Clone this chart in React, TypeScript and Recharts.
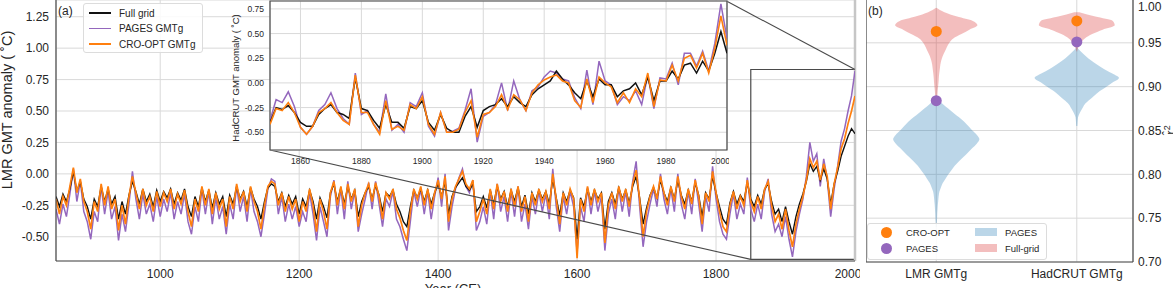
import {
  LineChart,
  Line,
  ComposedChart,
  Area,
  XAxis,
  YAxis,
  CartesianGrid,
  ReferenceArea,
  ReferenceLine,
  ReferenceDot,
} from "recharts";

const FONT = '"Liberation Sans", Arial, Helvetica, sans-serif';
const INK = "#262626";
const GRID = "#d9d9d9";
const SPINE = "#4a4a4a";

const C_FULL = "#111111";
const C_PAGES = "#9467bd";
const C_CRO = "#ff7f0e";
const C_VIOLIN_PAGES = "#1f77b4";
const C_VIOLIN_FULL = "#d62728";

// LMR global mean temperature, 5-year samples from 850 CE
const lmrStart = 850;
const lmrStep = 5;

const lmrFullGrid = [
  -0.18, -0.26, -0.16, -0.22, -0.12, 0.02, -0.14, -0.06, -0.2, -0.26,
  -0.36, -0.2, -0.26, -0.1, -0.22, -0.12, -0.24, -0.18, -0.36, -0.22,
  -0.32, -0.17, -0.06, -0.14, -0.24, -0.12, -0.22, -0.16, -0.26, -0.13,
  -0.22, -0.14, -0.19, -0.12, -0.24, -0.15, -0.21, -0.12, -0.26, -0.34,
  -0.18, -0.26, -0.11, -0.22, -0.13, -0.27, -0.15, -0.24, -0.18, -0.34,
  -0.17, -0.24, -0.1, -0.2, -0.14, -0.26, -0.11, -0.2, -0.26, -0.36,
  -0.22, -0.11, -0.08, -0.1, -0.22, -0.15, -0.26, -0.17, -0.24, -0.18,
  -0.32, -0.2, -0.26, -0.13, -0.22, -0.36, -0.19, -0.26, -0.35, -0.15,
  -0.08, -0.22, -0.11, -0.24, -0.1, -0.2, -0.13, -0.34, -0.22, -0.15,
  -0.1, -0.2, -0.09, -0.17, -0.3, -0.15, -0.18, -0.13, -0.24, -0.3,
  -0.38, -0.42, -0.26, -0.13, -0.19, -0.12, -0.22, -0.13, -0.24, -0.15,
  -0.08, -0.18, -0.06, -0.32, -0.18, -0.11, -0.07, -0.03, -0.1, -0.13,
  -0.08, -0.3, -0.26, -0.18, -0.27, -0.13, -0.24, -0.1, -0.2, -0.14,
  -0.26, -0.13, -0.22, -0.11, -0.26, -0.17, -0.32, -0.15, -0.22, -0.13,
  -0.2, -0.14, -0.24, -0.04, -0.19, -0.33, -0.15, -0.22, -0.13, -0.19,
  -0.52, -0.19, -0.26, -0.12, -0.22, -0.13, -0.2, -0.15, -0.44, -0.22,
  -0.15, -0.24, -0.11, -0.2, -0.13, -0.23, -0.1, -0.02, -0.19, -0.4,
  -0.27, -0.17, -0.11, -0.19, -0.05, -0.15, -0.22, -0.11, -0.2, -0.05,
  -0.17, -0.24, -0.13, -0.22, -0.07, -0.17, -0.34, -0.15, -0.2, -0.02,
  -0.15, -0.26, -0.36, -0.4, -0.23, -0.14, -0.24, -0.17, -0.22, -0.07,
  -0.2, -0.26, -0.17, -0.24, -0.12, -0.08, -0.22, -0.32, -0.28, -0.38,
  -0.26, -0.38, -0.48, -0.34, -0.24, -0.16, -0.06, 0.08, 0.02, 0.06,
  -0.05, 0.04, -0.04, -0.24, -0.08, 0.02, 0.14, 0.22, 0.3, 0.36,
  0.32,
];

const lmrPages = [
  -0.28, -0.4, -0.24, -0.34, -0.16, 0.04, -0.22, -0.06, -0.3, -0.38,
  -0.52, -0.3, -0.38, -0.1, -0.32, -0.14, -0.36, -0.26, -0.53, -0.32,
  -0.46, -0.24, 0.02, -0.2, -0.36, -0.16, -0.32, -0.24, -0.38, -0.18,
  -0.34, -0.2, -0.3, -0.15, -0.36, -0.22, -0.32, -0.16, -0.38, -0.48,
  -0.26, -0.38, -0.12, -0.32, -0.14, -0.4, -0.19, -0.36, -0.26, -0.48,
  -0.24, -0.36, -0.1, -0.3, -0.18, -0.38, -0.12, -0.3, -0.38, -0.5,
  -0.32, -0.12, -0.04, -0.06, -0.32, -0.18, -0.38, -0.24, -0.36, -0.26,
  -0.42, -0.3, -0.38, -0.15, -0.32, -0.53, -0.26, -0.38, -0.5, -0.18,
  -0.05, -0.32, -0.12, -0.36, -0.06, -0.28, -0.14, -0.46, -0.32, -0.2,
  -0.07, -0.28, -0.06, -0.24, -0.42, -0.2, -0.26, -0.14, -0.36, -0.42,
  -0.52, -0.61, -0.38, -0.14, -0.26, -0.12, -0.32, -0.14, -0.36, -0.18,
  -0.03, -0.26, 0.0, -0.45, -0.26, -0.12, -0.03, 0.04, -0.1, -0.15,
  -0.05, -0.45, -0.38, -0.26, -0.4, -0.14, -0.36, -0.08, -0.3, -0.18,
  -0.38, -0.14, -0.34, -0.1, -0.38, -0.24, -0.44, -0.18, -0.32, -0.14,
  -0.3, -0.16, -0.36, 0.04, -0.26, -0.46, -0.18, -0.32, -0.14, -0.26,
  -0.62, -0.26, -0.38, -0.11, -0.32, -0.14, -0.3, -0.18, -0.61, -0.32,
  -0.2, -0.36, -0.11, -0.3, -0.14, -0.34, -0.06, 0.1, -0.26, -0.58,
  -0.38, -0.24, -0.12, -0.26, 0.0, -0.2, -0.32, -0.12, -0.3, 0.0,
  -0.24, -0.36, -0.14, -0.32, -0.04, -0.24, -0.46, -0.18, -0.3, 0.06,
  -0.2, -0.38, -0.48, -0.52, -0.32, -0.16, -0.36, -0.24, -0.32, -0.03,
  -0.28, -0.38, -0.24, -0.36, -0.14, -0.04, -0.32, -0.46, -0.4, -0.5,
  -0.34, -0.52, -0.66, -0.46, -0.32, -0.2, -0.02, 0.25, 0.1, 0.16,
  -0.1, 0.12, -0.04, -0.34, -0.12, 0.06, 0.26, 0.36, 0.5, 0.62,
  0.82,
];

const lmrCroOpt = [
  -0.2, -0.32, -0.18, -0.25, -0.1, 0.05, -0.15, -0.04, -0.22, -0.3,
  -0.44, -0.22, -0.3, -0.08, -0.25, -0.1, -0.28, -0.2, -0.45, -0.25,
  -0.4, -0.18, -0.02, -0.15, -0.28, -0.12, -0.25, -0.18, -0.3, -0.14,
  -0.26, -0.15, -0.22, -0.12, -0.28, -0.16, -0.24, -0.13, -0.3, -0.42,
  -0.2, -0.3, -0.1, -0.25, -0.12, -0.32, -0.15, -0.28, -0.2, -0.42,
  -0.18, -0.28, -0.08, -0.22, -0.14, -0.3, -0.1, -0.22, -0.3, -0.44,
  -0.25, -0.1, -0.06, -0.08, -0.25, -0.15, -0.3, -0.18, -0.28, -0.2,
  -0.38, -0.22, -0.3, -0.12, -0.25, -0.46, -0.2, -0.3, -0.44, -0.15,
  -0.06, -0.25, -0.1, -0.28, -0.08, -0.22, -0.12, -0.42, -0.25, -0.15,
  -0.08, -0.22, -0.07, -0.18, -0.36, -0.15, -0.2, -0.12, -0.28, -0.35,
  -0.45, -0.53, -0.3, -0.12, -0.2, -0.1, -0.25, -0.12, -0.28, -0.15,
  -0.05, -0.2, -0.02, -0.38, -0.2, -0.1, -0.04, 0.02, -0.08, -0.12,
  -0.05, -0.38, -0.3, -0.2, -0.32, -0.12, -0.28, -0.08, -0.22, -0.14,
  -0.3, -0.12, -0.26, -0.1, -0.3, -0.18, -0.38, -0.15, -0.25, -0.12,
  -0.22, -0.14, -0.28, 0.0, -0.2, -0.4, -0.15, -0.25, -0.12, -0.2,
  -0.67, -0.2, -0.3, -0.1, -0.25, -0.12, -0.22, -0.15, -0.55, -0.25,
  -0.15, -0.28, -0.1, -0.22, -0.12, -0.26, -0.08, 0.03, -0.2, -0.5,
  -0.3, -0.18, -0.1, -0.2, -0.02, -0.15, -0.25, -0.1, -0.22, -0.02,
  -0.18, -0.28, -0.12, -0.24, -0.05, -0.18, -0.4, -0.15, -0.22, 0.02,
  -0.15, -0.3, -0.42, -0.46, -0.25, -0.14, -0.28, -0.18, -0.25, -0.05,
  -0.22, -0.3, -0.18, -0.28, -0.12, -0.06, -0.25, -0.38, -0.32, -0.44,
  -0.28, -0.45, -0.58, -0.4, -0.28, -0.18, -0.05, 0.12, 0.05, 0.1,
  -0.05, 0.08, -0.02, -0.28, -0.08, 0.05, 0.2, 0.28, 0.4, 0.5,
  0.62,
];

// HadCRUT-calibrated reconstructions, 2-year samples from 1850
const hadStart = 1850;
const hadStep = 2;

const hadFullGrid = [
  -0.4, -0.25, -0.27, -0.23, -0.3, -0.4, -0.44, -0.44, -0.32, -0.26,
  -0.22, -0.3, -0.32, -0.36, 0.05, -0.26, -0.28, -0.38, -0.46, -0.22,
  -0.4, -0.4, -0.46, -0.24, -0.26, -0.18, -0.4, -0.48, -0.32, -0.46,
  -0.5, -0.5, -0.34, -0.24, -0.45, -0.28, -0.24, -0.22, -0.16, -0.24,
  -0.14, -0.2, -0.24, -0.12, -0.06, -0.02, 0.02, 0.12, 0.04, -0.02,
  -0.1, -0.16, 0.02, -0.14, 0.04, -0.02, -0.02, -0.14, -0.08, -0.06,
  0.0, -0.12, 0.06, -0.18, 0.02, 0.02, 0.12, 0.04, 0.18, 0.2,
  0.1, 0.22, 0.12, 0.3, 0.52, 0.3,
];

const hadPages = [
  -0.38, -0.17, -0.2, -0.09, -0.24, -0.45, -0.52, -0.44, -0.28, -0.22,
  -0.1, -0.26, -0.36, -0.42, 0.1, -0.32, -0.28, -0.42, -0.5, -0.11,
  -0.48, -0.42, -0.5, -0.2, -0.24, -0.1, -0.44, -0.54, -0.3, -0.5,
  -0.49, -0.46, -0.28, -0.06, -0.6, -0.34, -0.3, -0.22, 0.0, -0.28,
  0.02, -0.17, -0.28, -0.08, -0.04, 0.06, 0.12, 0.1, 0.04, 0.02,
  -0.15, -0.26, 0.13, -0.22, 0.22, 0.02, -0.02, -0.22, -0.14, -0.18,
  -0.08, -0.22, 0.08, -0.26, 0.05, 0.04, 0.2, -0.02, 0.3, 0.3,
  0.17, 0.32, 0.12, 0.4, 0.8, 0.45,
];

const hadCroOpt = [
  -0.42, -0.26, -0.28, -0.2, -0.3, -0.45, -0.52, -0.44, -0.3, -0.26,
  -0.2, -0.3, -0.38, -0.42, 0.08, -0.3, -0.3, -0.42, -0.52, -0.18,
  -0.47, -0.44, -0.48, -0.22, -0.26, -0.14, -0.42, -0.52, -0.3, -0.5,
  -0.5, -0.47, -0.3, -0.18, -0.55, -0.32, -0.3, -0.24, -0.12, -0.27,
  -0.12, -0.17, -0.28, -0.1, -0.02, 0.03, 0.06, 0.08, 0.02, 0.0,
  -0.18, -0.25, 0.04, -0.2, 0.06, 0.0, -0.04, -0.2, -0.1, -0.2,
  -0.06, -0.14, 0.1, -0.24, 0.03, 0.02, 0.18, 0.02, 0.25, 0.28,
  0.15, 0.3, 0.1, 0.35, 0.68, 0.38,
];

const mainXTicks = [1000, 1200, 1400, 1600, 1800, 2000];
const mainYTicks = [-0.5, -0.25, 0, 0.25, 0.5, 0.75, 1.0, 1.25];
const insetXTicks = [1860, 1880, 1900, 1920, 1940, 1960, 1980, 2000];
const insetYTicks = [-0.5, -0.25, 0, 0.25, 0.5, 0.75];

// zoomed window shown in the inset
const zoomYears = [1850, 2000];
const zoomAnomaly = [-0.68, 0.83];

// violin panel: r^2 evaluation grid and half-widths of each kernel density
const violinLabels = ["LMR GMTg", "HadCRUT GMTg"];
const violinPositions = [0, 1];
const violinR = [
  0.74, 0.745, 0.75, 0.755, 0.76, 0.765, 0.77, 0.775, 0.78, 0.785,
  0.79, 0.795, 0.8, 0.805, 0.81, 0.815, 0.82, 0.825, 0.83, 0.835,
  0.84, 0.845, 0.85, 0.855, 0.86, 0.865, 0.87, 0.875, 0.88, 0.885,
  0.89, 0.895, 0.9, 0.905, 0.91, 0.915, 0.92, 0.925, 0.93, 0.935,
  0.94, 0.945, 0.95, 0.955, 0.96, 0.965, 0.97, 0.975, 0.98, 0.985,
  0.99,
];
const _ = null;
const lmrFullWidth = [
  _, _, _, _, _, _, _, _, _, _,
  _, _, _, _, _, _, _, _, _, _,
  _, _, _, _, _, _, _, _, _, 0.006,
  0.008, 0.01, 0.013, 0.016, 0.018, 0.021, 0.025, 0.029, 0.036, 0.046,
  0.061, 0.075, 0.093, 0.121, 0.179, 0.236, 0.293, 0.26, 0.148, 0.058,
  0.0,
];
const lmrPagesWidth = [
  0.003, 0.004, 0.006, 0.007, 0.009, 0.011, 0.014, 0.017, 0.022, 0.033,
  0.046, 0.066, 0.086, 0.109, 0.133, 0.162, 0.195, 0.226, 0.257, 0.288,
  0.307, 0.289, 0.257, 0.228, 0.199, 0.162, 0.123, 0.085, 0.048, 0.014,
  0.003, _, _, _, _, _, _, _, _, _,
  _, _, _, _, _, _, _, _, _, _,
  _,
];
const hadFullWidth = [
  _, _, _, _, _, _, _, _, _, _,
  _, _, _, _, _, _, _, _, _, _,
  _, _, _, _, _, _, _, _, _, _,
  _, _, _, _, _, _, _, _, _, _,
  0.002, 0.011, 0.029, 0.057, 0.11, 0.184, 0.27, 0.256, 0.132, 0.018,
  _,
];
const hadPagesWidth = [
  _, _, _, _, _, _, _, _, _, _,
  _, _, _, _, _, _, _, _, _, _,
  _, _, _, 0.004, 0.006, 0.009, 0.021, 0.039, 0.057, 0.091,
  0.126, 0.164, 0.211, 0.257, 0.3, 0.253, 0.196, 0.146, 0.1, 0.063,
  0.029, 0.002, _, _, _, _, _, _, _, _,
  _,
];
const croOptScore = [0.963, 0.975];
const pagesScore = [0.884, 0.951];
const scoreTicks = [0.7, 0.75, 0.8, 0.85, 0.9, 0.95, 1.0];

const mainRows = lmrFullGrid.map((v, i) => ({
  year: lmrStart + i * lmrStep,
  full: v,
  pages: lmrPages[i],
  cro: lmrCroOpt[i],
}));

const hadRows = hadFullGrid.map((v, i) => ({
  year: hadStart + i * hadStep,
  full: v,
  pages: hadPages[i],
  cro: hadCroOpt[i],
}));

const span = (w: number | null, pos: number) =>
  w == null ? undefined : [pos - w, pos + w];

const violinRows = violinR.map((r, i) => ({
  r,
  lmrFull: span(lmrFullWidth[i], violinPositions[0]),
  lmrPages: span(lmrPagesWidth[i], violinPositions[0]),
  hadFull: span(hadFullWidth[i], violinPositions[1]),
  hadPages: span(hadPagesWidth[i], violinPositions[1]),
}));

const fmt2 = (v: number) => v.toFixed(2);

function MainPanel() {
  const tick = { fontSize: 12, fill: INK, fontFamily: FONT };
  return (
    <LineChart
      width={860}
      height={288}
      data={mainRows}
      margin={{ top: 0, right: 5, bottom: 0, left: 0 }}
    >
      <CartesianGrid stroke={GRID} />
      <XAxis
        dataKey="year"
        type="number"
        domain={[850, 2000]}
        ticks={mainXTicks}
        allowDataOverflow
        height={27}
        tick={tick}
        tickLine={false}
        tickSize={4}
        tickMargin={4}
        axisLine={{ stroke: SPINE, strokeWidth: 1.2 }}
      />
      <YAxis
        type="number"
        domain={[-0.693, 1.383]}
        ticks={mainYTicks}
        allowDataOverflow
        width={56}
        tick={tick}
        tickFormatter={fmt2}
        tickLine={false}
        tickSize={4}
        tickMargin={3}
        axisLine={{ stroke: SPINE, strokeWidth: 1.2 }}
      />
      <ReferenceLine x={2000} stroke="#c6c6c6" strokeWidth={2.5} />
      <Line
        dataKey="pages"
        stroke={C_PAGES}
        strokeWidth={1.5}
        dot={false}
        isAnimationActive={false}
      />
      <Line
        dataKey="full"
        stroke={C_FULL}
        strokeWidth={1.4}
        dot={false}
        isAnimationActive={false}
      />
      <Line
        dataKey="cro"
        stroke={C_CRO}
        strokeWidth={1.7}
        dot={false}
        isAnimationActive={false}
      />
      <ReferenceArea
        x1={zoomYears[0]}
        x2={zoomYears[1]}
        y1={zoomAnomaly[0]}
        y2={zoomAnomaly[1]}
        fill="none"
        stroke={SPINE}
        strokeWidth={1.2}
      />
      {/* connectors from the inset corners to the zoom window */}
      <ReferenceLine
        segment={[
          { x: 1158, y: 0.19 },
          { x: zoomYears[0], y: zoomAnomaly[0] },
        ]}
        stroke={SPINE}
        strokeWidth={1.1}
        ifOverflow="visible"
      />
      <ReferenceLine
        segment={[
          { x: 1815, y: 1.375 },
          { x: zoomYears[1], y: zoomAnomaly[1] },
        ]}
        stroke={SPINE}
        strokeWidth={1.1}
        ifOverflow="visible"
      />
    </LineChart>
  );
}

function InsetPanel() {
  const tick = { fontSize: 8.5, fill: INK, fontFamily: FONT };
  return (
    <LineChart
      width={503}
      height={168}
      data={hadRows}
      margin={{ top: 1, right: 2, bottom: 0, left: 0 }}
    >
      <CartesianGrid stroke={GRID} fill="#ffffff" fillOpacity={1} />
      <XAxis
        dataKey="year"
        type="number"
        domain={zoomYears}
        ticks={insetXTicks}
        allowDataOverflow
        height={18}
        tick={tick}
        tickLine={false}
        tickSize={3}
        tickMargin={5}
        axisLine={false}
      />
      <YAxis
        type="number"
        domain={zoomAnomaly}
        ticks={insetYTicks}
        allowDataOverflow
        width={44}
        tick={tick}
        tickFormatter={fmt2}
        tickLine={false}
        tickSize={3}
        tickMargin={3}
        axisLine={false}
      />
      <Line
        dataKey="pages"
        stroke={C_PAGES}
        strokeWidth={1.5}
        dot={false}
        isAnimationActive={false}
      />
      <Line
        dataKey="full"
        stroke={C_FULL}
        strokeWidth={1.5}
        dot={false}
        isAnimationActive={false}
      />
      <Line
        dataKey="cro"
        stroke={C_CRO}
        strokeWidth={1.6}
        dot={false}
        isAnimationActive={false}
      />
      <ReferenceArea
        x1={zoomYears[0]}
        x2={zoomYears[1]}
        y1={zoomAnomaly[0]}
        y2={zoomAnomaly[1]}
        fill="none"
        stroke={SPINE}
        strokeWidth={1.2}
      />
    </LineChart>
  );
}

function ViolinPanel() {
  const tick = { fontSize: 12, fill: INK, fontFamily: FONT };
  const areas = [
    { key: "lmrPages", color: C_VIOLIN_PAGES },
    { key: "lmrFull", color: C_VIOLIN_FULL },
    { key: "hadPages", color: C_VIOLIN_PAGES },
    { key: "hadFull", color: C_VIOLIN_FULL },
  ];
  return (
    <ComposedChart
      layout="vertical"
      width={307}
      height={289}
      data={violinRows}
      margin={{ top: 0, right: 0, bottom: 0, left: 0 }}
    >
      <CartesianGrid stroke={GRID} />
      <XAxis
        type="number"
        domain={[-0.5, 1.4]}
        ticks={violinPositions}
        tickFormatter={(v: number) => violinLabels[v]}
        allowDataOverflow
        height={26}
        tick={tick}
        tickLine={false}
        tickSize={4}
        tickMargin={3}
        axisLine={{ stroke: SPINE, strokeWidth: 1.2 }}
      />
      <YAxis
        type="number"
        dataKey="r"
        orientation="right"
        reversed
        domain={[0.7, 1.0]}
        ticks={scoreTicks}
        allowDataOverflow
        width={40}
        tick={tick}
        tickFormatter={fmt2}
        tickLine={false}
        tickSize={2}
        tickMargin={3}
        axisLine={{ stroke: SPINE, strokeWidth: 1.2 }}
      />
      <ReferenceLine x={-0.5} stroke={SPINE} strokeWidth={1.2} />
      {areas.map((a) => (
        <Area
          key={a.key}
          dataKey={(d: any) => d[a.key]}
          type="monotone"
          fill={a.color}
          fillOpacity={0.3}
          stroke="none"
          dot={false}
          activeDot={false}
          isAnimationActive={false}
        />
      ))}
      {violinPositions.map((p, i) => (
        <ReferenceDot
          key={"cro" + i}
          x={p}
          y={croOptScore[i]}
          r={5.5}
          fill={C_CRO}
          stroke="none"
        />
      ))}
      {violinPositions.map((p, i) => (
        <ReferenceDot
          key={"pages" + i}
          x={p}
          y={pagesScore[i]}
          r={5.5}
          fill={C_PAGES}
          stroke="none"
        />
      ))}
    </ComposedChart>
  );
}

const abs = (left: number, top: number): React.CSSProperties => ({
  position: "absolute",
  left,
  top,
});

function RotatedLabel({
  x,
  y,
  size,
  children,
}: {
  x: number;
  y: number;
  size: number;
  children: React.ReactNode;
}) {
  return (
    <div
      style={{
        ...abs(x, y),
        transform: "translate(-50%, -50%) rotate(-90deg)",
        whiteSpace: "nowrap",
        fontSize: size,
        color: INK,
        lineHeight: 1,
      }}
    >
      {children}
    </div>
  );
}

function LineLegend() {
  const rows = [
    { label: "Full grid", color: C_FULL },
    { label: "PAGES GMTg", color: C_PAGES },
    { label: "CRO-OPT GMTg", color: C_CRO },
  ];
  return (
    <div
      style={{
        ...abs(83, 3),
        width: 120,
        height: 50,
        border: "1px solid #dcdcdc",
        borderRadius: 3,
        background: "rgba(255,255,255,0.85)",
        boxSizing: "border-box",
        fontSize: 10,
        color: INK,
      }}
    >
      {rows.map((r, i) => (
        <div key={r.label} style={{ ...abs(5, 3 + i * 15.5), display: "flex", alignItems: "center", height: 12 }}>
          <div style={{ width: 22, height: 1.6, background: r.color }} />
          <span style={{ marginLeft: 8, whiteSpace: "nowrap" }}>{r.label}</span>
        </div>
      ))}
    </div>
  );
}

function ViolinLegend() {
  return (
    <div
      style={{
        ...abs(867, 223),
        width: 180,
        height: 37,
        border: "1px solid #dcdcdc",
        borderRadius: 3,
        background: "rgba(255,255,255,0.85)",
        boxSizing: "border-box",
        fontSize: 9.5,
        color: INK,
      }}
    >
      {[
        { label: "CRO-OPT", color: C_CRO },
        { label: "PAGES", color: C_PAGES },
      ].map((r, i) => (
        <div key={r.label} style={{ ...abs(13, 2 + i * 16), display: "flex", alignItems: "center", height: 12 }}>
          <div style={{ width: 11, height: 11, borderRadius: "50%", background: r.color }} />
          <span style={{ marginLeft: 14 }}>{r.label}</span>
        </div>
      ))}
      {[
        { label: "PAGES", color: "rgba(31,119,180,0.3)" },
        { label: "Full-grid", color: "rgba(214,39,40,0.3)" },
      ].map((r, i) => (
        <div key={r.label} style={{ ...abs(107, 2 + i * 16), display: "flex", alignItems: "center", height: 12 }}>
          <div style={{ width: 22, height: 8, background: r.color }} />
          <span style={{ marginLeft: 8 }}>{r.label}</span>
        </div>
      ))}
    </div>
  );
}

export default function App() {
  return (
    <div
      style={{
        position: "absolute",
        left: 0,
        top: 0,
        width: 1173,
        height: 288,
        overflow: "hidden",
        background: "#fff",
        fontFamily: FONT,
      }}
    >
      <div style={abs(0, 0)}>
        <MainPanel />
      </div>
      <div style={abs(226, 0)}>
        <InsetPanel />
      </div>
      <div style={abs(866, -1)}>
        <ViolinPanel />
      </div>
      <LineLegend />
      <ViolinLegend />
      <div style={{ ...abs(58, 4), fontSize: 12, color: INK }}>(a)</div>
      <div style={{ ...abs(868, 4), fontSize: 12, color: INK }}>(b)</div>
      <RotatedLabel x={7} y={110} size={14.5}>
        LMR GMT anomaly ( ˚C)
      </RotatedLabel>
      <RotatedLabel x={236} y={78} size={9.5}>
        HadCRUT GMT anomaly ( ˚C)
      </RotatedLabel>
      <RotatedLabel x={1170} y={130} size={13}>
        <span>
          r&#770;<sup style={{ fontSize: 9 }}>2</sup>
        </span>
      </RotatedLabel>
      <div
        style={{
          ...abs(453, 281),
          transform: "translateX(-50%)",
          fontSize: 13,
          color: INK,
          whiteSpace: "nowrap",
        }}
      >
        Year (CE)
      </div>
    </div>
  );
}
